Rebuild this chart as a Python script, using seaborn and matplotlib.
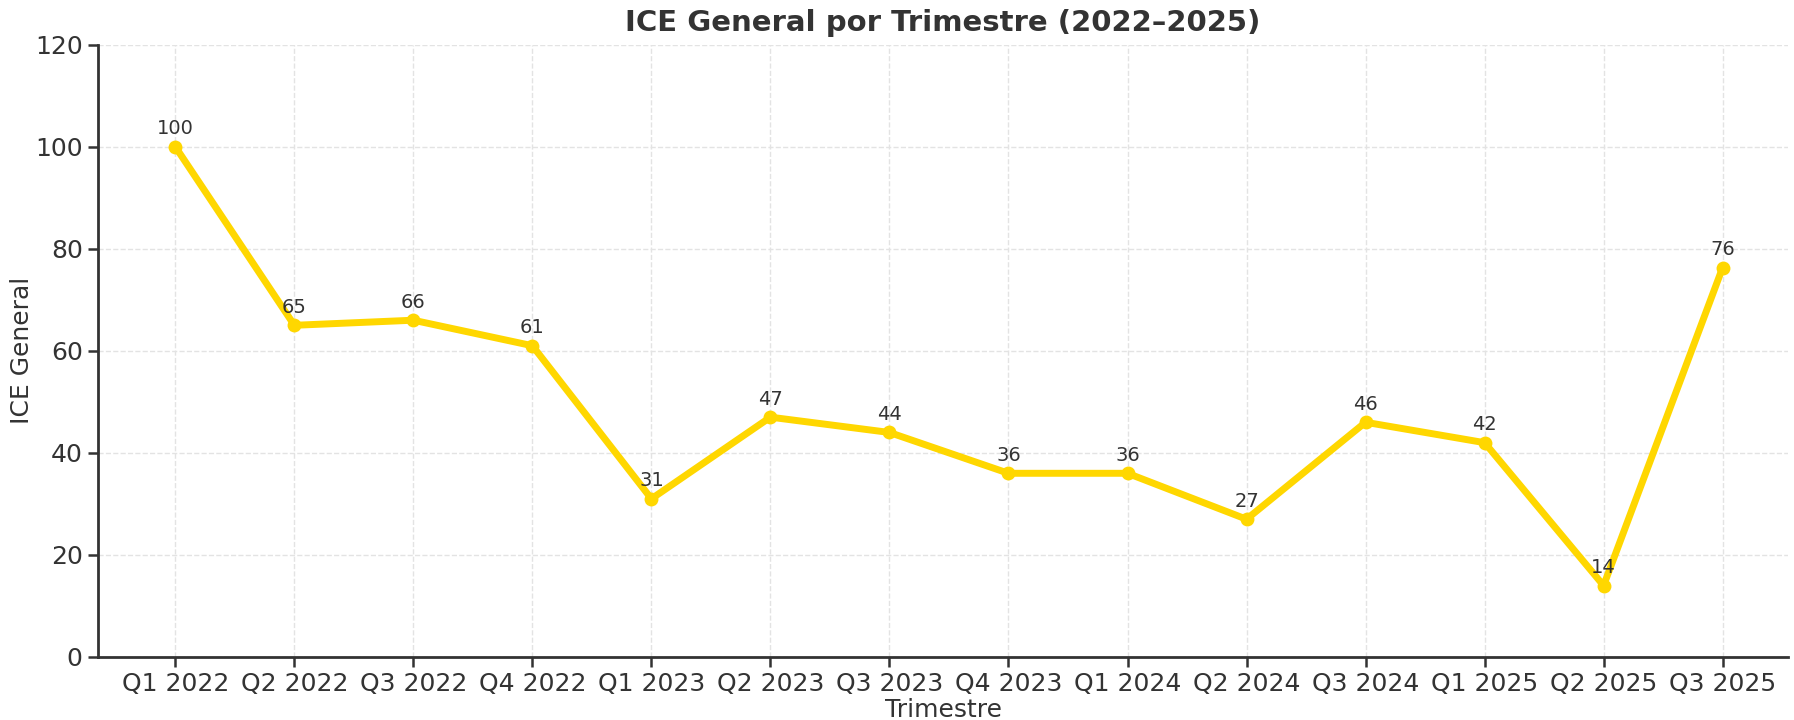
import matplotlib
matplotlib.use("Agg")
import matplotlib.pyplot as plt
import seaborn as sns
import pandas as pd

trimestres = ["Q1 2022", "Q2 2022", "Q3 2022", "Q4 2022", "Q1 2023", "Q2 2023", "Q3 2023",
              "Q4 2023", "Q1 2024", "Q2 2024", "Q3 2024", "Q1 2025", "Q2 2025", "Q3 2025"]
ice_general = [100, 65, 66, 61, 31, 47, 44, 36, 36, 27, 46, 42, 14, 76.3]
y_ticks = [0, 20, 40, 60, 80, 100, 120]

df = pd.DataFrame({"Trimestre": trimestres, "ICE General": ice_general})

sns.set_theme(style="white")
plt.rcParams["font.family"] = ["DejaVu Sans"]
plt.rcParams["text.color"] = "#333333"
plt.rcParams["axes.labelcolor"] = "#333333"
plt.rcParams["xtick.color"] = "#333333"
plt.rcParams["ytick.color"] = "#333333"

fig = plt.figure(figsize=(8.97, 3.6), dpi=200)
ax = fig.add_axes([0.0546, 0.0875, 0.9421, 0.8505])

sns.lineplot(data=df, x="Trimestre", y="ICE General", ax=ax, color="#FFD700",
             linewidth=2.5, marker="o", markersize=5, markeredgewidth=0, sort=False)

for i, v in enumerate(ice_general):
    ax.annotate(f"{v:.0f}", (i, v), textcoords="offset points", xytext=(0, 3),
                ha="center", va="bottom", fontsize=7, color="#333333")

ax.set_ylim(0, 120)
ax.set_yticks(y_ticks)
ax.set_xlim(-0.65, len(trimestres) - 0.45)
ax.grid(True, linestyle="--", linewidth=0.5, color="#e3e3e3")
ax.set_axisbelow(True)
sns.despine(ax=ax)
for s in ["left", "bottom"]:
    ax.spines[s].set_color("#333333")
    ax.spines[s].set_linewidth(1.0)
ax.tick_params(axis="both", which="major", length=3.5, width=0.9, labelsize=9,
               bottom=True, left=True, pad=2)
ax.set_xlabel("Trimestre", fontsize=9, labelpad=0.5)
ax.set_ylabel("ICE General", fontsize=9, labelpad=0.5)
ax.set_title("ICE General por Trimestre (2022–2025)", fontsize=10.5, fontweight="bold", pad=5)

fig.savefig("out.png", dpi=200)
